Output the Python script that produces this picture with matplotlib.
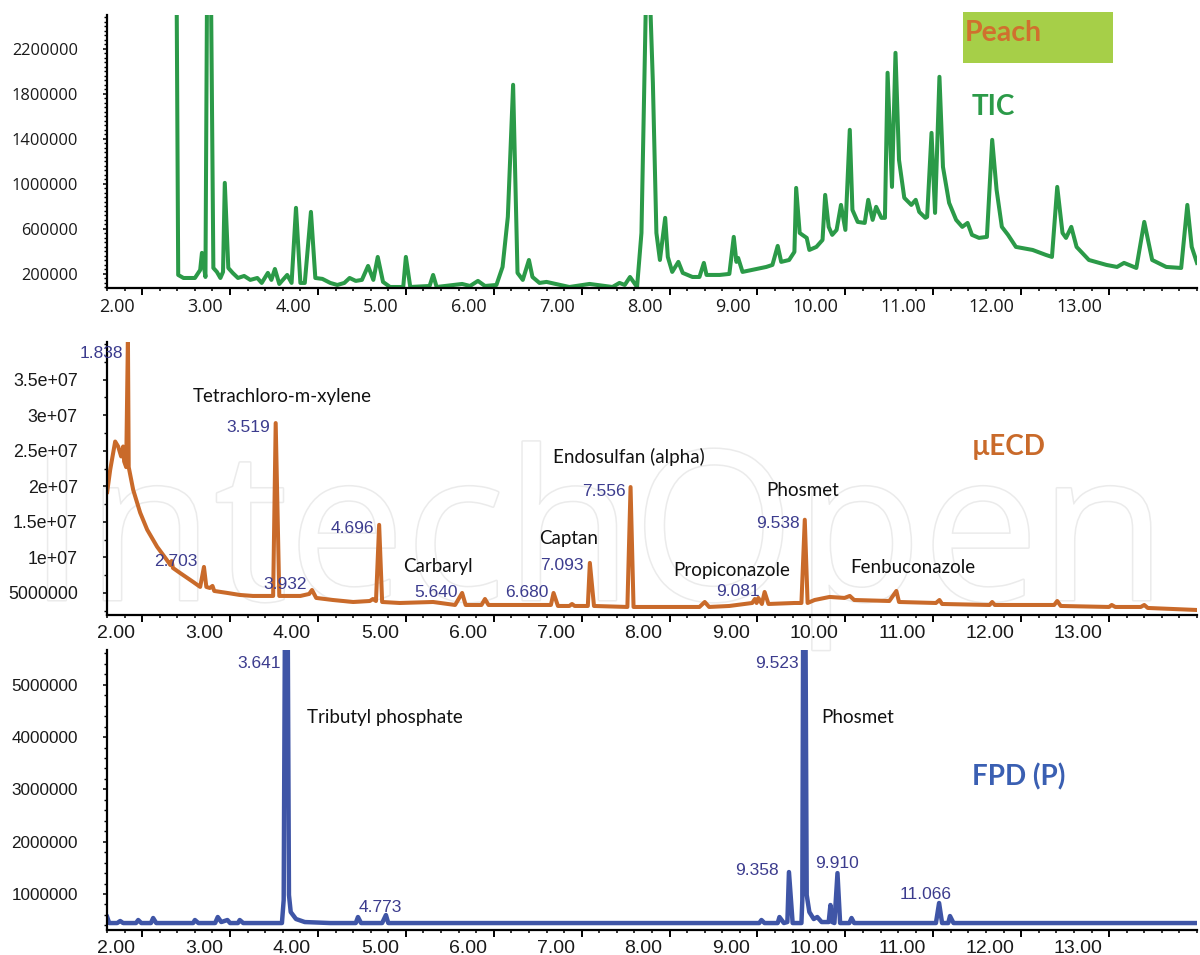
import numpy as np
import matplotlib
matplotlib.use("Agg")
import matplotlib.pyplot as plt
from matplotlib.ticker import MultipleLocator
from matplotlib.transforms import ScaledTranslation
from matplotlib.patches import Rectangle
import matplotlib.patheffects as pe

# ---------------- data ----------------
x_ticks = [2, 3, 4, 5, 6, 7, 8, 9, 10, 11, 12, 13]
x_tick_labels = ["2.00", "3.00", "4.00", "5.00", "6.00", "7.00", "8.00", "9.00",
                 "10.00", "11.00", "12.00", "13.00"]

tic_yticks = [200000, 600000, 1000000, 1400000, 1800000, 2200000]
tic_ylabels = ["200000", "600000", "1000000", "1400000", "1800000", "2200000"]
ecd_yticks = [5e6, 1e7, 1.5e7, 2e7, 2.5e7, 3e7, 3.5e7]
ecd_ylabels = ["5000000", "1e+07", "1.5e+07", "2e+07", "2.5e+07", "3e+07", "3.5e+07"]
fpd_yticks = [1e6, 2e6, 3e6, 4e6, 5e6]
fpd_ylabels = ["1000000", "2000000", "3000000", "4000000", "5000000"]

tic_time = [2.39, 2.41, 2.47, 2.60, 2.66, 2.68, 2.72, 2.74, 2.78, 2.81,
            2.85, 2.89, 2.92, 2.94, 2.98, 3.03, 3.09, 3.16, 3.23, 3.31,
            3.36, 3.43, 3.47, 3.51, 3.56, 3.65, 3.70, 3.75, 3.80, 3.85,
            3.92, 3.97, 4.05, 4.14, 4.22, 4.30, 4.36, 4.43, 4.50, 4.57,
            4.63, 4.68, 4.74, 4.82, 4.97, 5.00, 5.05, 5.27, 5.31, 5.35,
            5.64, 5.73, 5.82, 5.90, 6.03, 6.10, 6.16, 6.22, 6.25, 6.27,
            6.33, 6.40, 6.44, 6.52, 6.60, 6.86, 7.09, 7.35, 7.43, 7.49,
            7.55, 7.63, 7.68, 7.73, 7.78, 7.81, 7.85, 7.89, 7.95, 7.98,
            8.03, 8.10, 8.15, 8.26, 8.34, 8.39, 8.42, 8.57, 8.68, 8.73,
            8.76, 8.78, 8.83, 8.94, 9.10, 9.17, 9.23, 9.27, 9.36, 9.42,
            9.44, 9.48, 9.51, 9.56, 9.59, 9.67, 9.74, 9.77, 9.81, 9.85,
            9.90, 9.95, 10.00, 10.05, 10.08, 10.14, 10.22, 10.26, 10.31, 10.35,
            10.41, 10.45, 10.48, 10.53, 10.57, 10.61, 10.67, 10.75, 10.80, 10.84,
            10.91, 10.93, 10.98, 11.02, 11.07, 11.11, 11.18, 11.26, 11.33, 11.39,
            11.44, 11.52, 11.61, 11.67, 11.72, 11.78, 11.85, 11.94, 12.13, 12.28,
            12.35, 12.41, 12.47, 12.51, 12.57, 12.63, 12.77, 12.97, 13.09, 13.17,
            13.31, 13.40, 13.49, 13.65, 13.82, 13.89, 13.94, 14.00]
tic_signal = [3.0e6, 191000, 164000, 164000, 235000, 387000, 173000, 3.0e6, 3.0e6, 253000,
              218000, 164000, 218000, 1009000, 253000, 209000, 164000, 182000, 147000, 164000,
              120000, 209000, 147000, 244000, 111000, 191000, 120000, 787000, 120000, 120000,
              751000, 164000, 156000, 120000, 102000, 120000, 164000, 138000, 147000, 271000,
              147000, 351000, 129000, 84000, 84000, 351000, 84000, 93000, 191000, 84000,
              111000, 93000, 138000, 93000, 102000, 262000, 707000, 1880000, 858000, 209000,
              147000, 324000, 173000, 120000, 129000, 84000, 111000, 84000, 120000, 102000,
              173000, 84000, 564000, 2.6e6, 2.6e6, 1898000, 564000, 324000, 698000, 351000,
              218000, 307000, 209000, 173000, 173000, 298000, 191000, 191000, 200000, 529000,
              307000, 342000, 218000, 236000, 262000, 280000, 449000, 307000, 324000, 396000,
              964000, 564000, 547000, 520000, 413000, 440000, 502000, 902000, 618000, 547000,
              591000, 813000, 591000, 1480000, 769000, 662000, 653000, 858000, 680000, 796000,
              698000, 698000, 1987000, 973000, 2164000, 1213000, 876000, 813000, 858000, 751000,
              698000, 707000, 1453000, 742000, 1951000, 1151000, 831000, 680000, 618000, 653000,
              547000, 520000, 529000, 1391000, 947000, 618000, 547000, 440000, 413000, 369000,
              351000, 973000, 564000, 520000, 618000, 440000, 324000, 280000, 262000, 298000,
              253000, 662000, 324000, 262000, 253000, 813000, 440000, 298000]

ecd_time = [1.602, 1.636, 1.693, 1.727, 1.761, 1.784, 1.795, 1.818, 1.838, 1.847,
            1.898, 1.977, 2.057, 2.17, 2.28, 2.32, 2.335, 2.35, 2.43, 2.58,
            2.66, 2.703, 2.73, 2.77, 2.80, 2.82, 2.97, 3.11, 3.26, 3.49,
            3.519, 3.56, 3.80, 3.90, 3.932, 3.98, 4.17, 4.40, 4.59, 4.625,
            4.66, 4.696, 4.73, 4.93, 5.31, 5.56, 5.64, 5.68, 5.86, 5.90,
            5.94, 6.30, 6.65, 6.68, 6.73, 6.86, 6.89, 6.92, 7.07, 7.093,
            7.14, 7.52, 7.556, 7.59, 8.34, 8.40, 8.45, 8.68, 8.94, 8.97,
            8.99, 9.01, 9.05, 9.081, 9.125, 9.42, 9.50, 9.538, 9.57, 9.65,
            9.82, 9.99, 10.05, 10.10, 10.50, 10.58, 10.61, 11.03, 11.07, 11.10,
            11.64, 11.67, 11.70, 12.375, 12.41, 12.45, 13.0, 13.03, 13.07, 13.36,
            13.40, 13.44, 13.99]
ecd_signal = [1.92e7, 2.23e7, 2.63e7, 2.56e7, 2.42e7, 2.56e7, 2.35e7, 2.27e7, 4.1e7, 2.27e7,
              1.95e7, 1.63e7, 1.39e7, 1.15e7, 9.65e6, 8.94e6, 9.5e6, 8.52e6, 7.82e6, 6.55e6,
              5.85e6, 8.66e6, 5.85e6, 5.70e6, 5.99e6, 5.28e6, 5.0e6, 4.72e6, 4.58e6, 4.58e6,
              2.89e7, 4.58e6, 4.58e6, 4.86e6, 5.42e6, 4.30e6, 4.01e6, 3.73e6, 3.87e6, 4.15e6,
              3.87e6, 1.458e7, 3.73e6, 3.59e6, 3.73e6, 3.31e6, 5.0e6, 3.31e6, 3.31e6, 4.15e6,
              3.31e6, 3.31e6, 3.31e6, 5.0e6, 3.17e6, 3.17e6, 3.45e6, 3.17e6, 3.17e6, 9.23e6,
              3.17e6, 3.03e6, 1.99e7, 3.03e6, 3.03e6, 3.73e6, 3.03e6, 3.17e6, 3.59e6, 4.15e6,
              3.59e6, 4.30e6, 3.45e6, 5.14e6, 3.45e6, 3.59e6, 3.59e6, 1.53e7, 3.59e6, 4.01e6,
              4.44e6, 4.30e6, 4.58e6, 4.01e6, 3.87e6, 5.28e6, 3.73e6, 3.59e6, 4.01e6, 3.45e6,
              3.31e6, 3.73e6, 3.31e6, 3.31e6, 3.87e6, 3.17e6, 3.03e6, 3.31e6, 3.03e6, 3.03e6,
              3.31e6, 2.89e6, 2.61e6]

fpd_time = [1.602, 1.625, 1.716, 1.75, 1.784, 1.93, 1.955, 1.99, 2.10, 2.125,
            2.16, 2.58, 2.60, 2.64, 2.83, 2.86, 2.90, 2.97, 3.00, 3.09,
            3.11, 3.15, 3.59, 3.61, 3.625, 3.655, 3.67, 3.69, 3.75, 3.85,
            4.14, 4.43, 4.455, 4.49, 4.73, 4.773, 4.80, 9.02, 9.045, 9.08,
            9.23, 9.25, 9.30, 9.34, 9.358, 9.40, 9.50, 9.51, 9.52, 9.545,
            9.56, 9.59, 9.64, 9.68, 9.73, 9.81, 9.83, 9.85, 9.875, 9.91,
            9.94, 10.045, 10.07, 10.10, 11.03, 11.066, 11.10, 11.17, 11.19, 11.23,
            14.0]
fpd_signal = [560000, 445000, 445000, 484000, 445000, 445000, 503000, 445000, 445000, 541000,
              445000, 445000, 503000, 445000, 445000, 560000, 464000, 503000, 445000, 445000,
              503000, 445000, 445000, 885000, 6.5e6, 6.5e6, 981000, 656000, 522000, 464000,
              445000, 445000, 560000, 445000, 445000, 598000, 445000, 445000, 503000, 445000,
              445000, 560000, 445000, 464000, 1420000, 445000, 445000, 885000, 6.5e6, 6.5e6,
              981000, 656000, 522000, 560000, 464000, 464000, 790000, 464000, 445000, 1400000,
              445000, 445000, 541000, 445000, 445000, 828000, 445000, 445000, 579000, 445000,
              445000]

ecd_peak_labels = ["1.838", "2.703", "3.519", "3.932", "4.696", "5.640", "6.680",
                   "7.093", "7.556", "9.081", "9.538"]
ecd_peak_rt = [1.838, 2.703, 3.519, 3.932, 4.696, 5.640, 6.680, 7.093, 7.556, 9.081, 9.538]
ecd_compounds = ["Tetrachloro-m-xylene", "Carbaryl", "Captan", "Endosulfan (alpha)",
                 "Propiconazole", "Phosmet", "Fenbuconazole"]
fpd_peak_labels = ["3.641", "4.773", "9.358", "9.523", "9.910", "11.066"]
fpd_peak_rt = [3.641, 4.773, 9.358, 9.523, 9.910, 11.066]
fpd_compounds = ["Tributyl phosphate", "Phosmet"]

# ---------------- style ----------------
GREEN = "#2b9a48"
ORANGE = "#c96a2a"
BLUE = "#3f55a6"
NAVY = "#3c3c8e"

fig = plt.figure(figsize=(12, 9.55), dpi=100)
W, H = 1200.0, 955.0

# faint watermark
fig.text(28 / W, 1 - 600 / H, "IntechOpen", fontsize=150, family="Open Sans",
         color="white", ha="left", va="baseline", zorder=-5,
         path_effects=[pe.withStroke(linewidth=2.2, foreground="#ebebeb")])


def px_axes(left, top, right, bottom):
    return fig.add_axes([left / W, 1 - bottom / H, (right - left) / W, (bottom - top) / H])


def style(ax, yticks, ylabels, yminor, ylim, tfam, xfs, yfs):
    ax.set_facecolor("none")
    for s in ["top", "right"]:
        ax.spines[s].set_visible(False)
    for s in ["left", "bottom"]:
        ax.spines[s].set_linewidth(1.6)
        ax.spines[s].set_color("black")
    ax.set_xlim(1.60, 14.0)
    ax.set_ylim(*ylim)
    ax.set_xticks(x_ticks)
    ax.set_xticklabels([])
    ax.xaxis.set_minor_locator(MultipleLocator(0.2))
    ax.tick_params(axis="x", which="major", length=5, width=1.4, direction="out")
    ax.tick_params(axis="x", which="minor", length=2.5, width=1.1, direction="out")
    ax.set_yticks(yticks)
    ax.set_yticklabels(ylabels, fontsize=yfs, family=tfam, color="#1a1a1a")
    ax.yaxis.set_minor_locator(MultipleLocator(yminor))
    ax.tick_params(axis="y", which="major", length=3, width=1.1, pad=18)
    ax.tick_params(axis="y", which="minor", length=2.5, width=1.0)
    offs = ScaledTranslation(-0.07, -0.095, fig.dpi_scale_trans)
    for t, lab in zip(x_ticks, x_tick_labels):
        ax.text(t, 0, lab, transform=ax.get_xaxis_transform() + offs, ha="right", va="top",
                fontsize=xfs, family=tfam, color="#1a1a1a")


def peak_value(times, sig, rt, top):
    times = np.asarray(times)
    sig = np.asarray(sig)
    m = np.abs(times - rt) <= 0.02
    return min(sig[m].max(), top)


def label_peaks(ax, times, sig, labels, rts, layout, top):
    for lab, rt in zip(labels, rts):
        dx, dy, ha = layout.get(lab, (-5, -4, "right"))
        y = peak_value(times, sig, rt, top)
        ax.annotate(lab, xy=(rt, y), xytext=(dx * 0.72, dy * 0.72), textcoords="offset points",
                    ha=ha, va="center", fontsize=12.5, family="Liberation Sans", color=NAVY,
                    annotation_clip=False)


# ---------------- TIC ----------------
ax1 = px_axes(107, 15, 1197, 288)
tic_ylim = (75000, 2.5e6)
style(ax1, tic_yticks, tic_ylabels, 40000, tic_ylim, "Open Sans", 13, 11.8)
ax1.plot(tic_time, tic_signal, color=GREEN, lw=2.9, solid_joinstyle="round")

# ---------------- ECD ----------------
ax2 = px_axes(107, 342, 1197, 615)
ecd_ylim = (1.9e6, 4.03e7)
style(ax2, ecd_yticks, ecd_ylabels, 2.5e6, ecd_ylim, "Liberation Sans", 14, 12.8)
ax2.plot(ecd_time, ecd_signal, color=ORANGE, lw=2.9, solid_joinstyle="round")
ecd_layout = {"1.838": (-5, -12, "right"), "2.703": (-6, 5, "right"),
              "3.932": (-5, 5, "right"), "5.640": (-4, 0, "right"),
              "6.680": (-5, 0, "right"), "9.081": (-5, 0, "right"),
              "3.519": (-6, -4, "right"), "7.093": (-6, -3, "right")}
label_peaks(ax2, ecd_time, ecd_signal, ecd_peak_labels, ecd_peak_rt, ecd_layout, ecd_ylim[1])
ecd_compound_pos = [(2.57, 3.26e7), (4.97, 8.66e6), (6.52, 1.26e7), (6.67, 2.415e7),
                    (8.045, 8.1e6), (9.10, 1.94e7), (10.06, 8.52e6)]
for name, (t, v) in zip(ecd_compounds, ecd_compound_pos):
    ax2.text(t, v, name, ha="left", va="center", fontsize=13.5, family="Lato", color="#111111")

# ---------------- FPD ----------------
ax3 = px_axes(107, 650, 1197, 930)
fpd_ylim = (3.12e5, 5.665e6)
style(ax3, fpd_yticks, fpd_ylabels, 2e5, fpd_ylim, "Liberation Sans", 14, 12.3)
ax3.plot(fpd_time, fpd_signal, color=BLUE, lw=3.2, solid_joinstyle="round")
fpd_layout = {"3.641": (-6, -13, "right"), "9.523": (-5, -13, "right"),
              "9.358": (-10, 2, "right"), "9.910": (0, 10, "center"),
              "11.066": (-13, 9, "center"), "4.773": (-6, 8, "center")}
label_peaks(ax3, fpd_time, fpd_signal, fpd_peak_labels, fpd_peak_rt, fpd_layout, fpd_ylim[1])
fpd_compound_pos = [(3.875, 4.365e6), (9.73, 4.365e6)]
for name, (t, v) in zip(fpd_compounds, fpd_compound_pos):
    ax3.text(t, v, name, ha="left", va="center", fontsize=13.5, family="Lato", color="#111111")

# ---------------- panel titles ----------------
fig.patches.append(Rectangle((963 / W, 1 - 63 / H), 150 / W, 51 / H, transform=fig.transFigure,
                             facecolor="#a6cf48", edgecolor="none", zorder=1))
fig.text(965 / W, 1 - 33 / H, "Peach", fontsize=20.5, family="Lato", weight="bold",
         color="#d0702e", ha="left", va="center", zorder=2)
fig.text(972 / W, 1 - 107 / H, "TIC", fontsize=20, family="Lato", weight="bold",
         color=GREEN, ha="left", va="center")
fig.text(972 / W, 1 - 447 / H, "\u00b5ECD", fontsize=20, family="Lato", weight="bold",
         color=ORANGE, ha="left", va="center")
fig.text(972 / W, 1 - 777 / H, "FPD (P)", fontsize=20, family="Lato", weight="bold",
         color="#3a5fb2", ha="left", va="center")

fig.savefig("out.png", dpi=100)
